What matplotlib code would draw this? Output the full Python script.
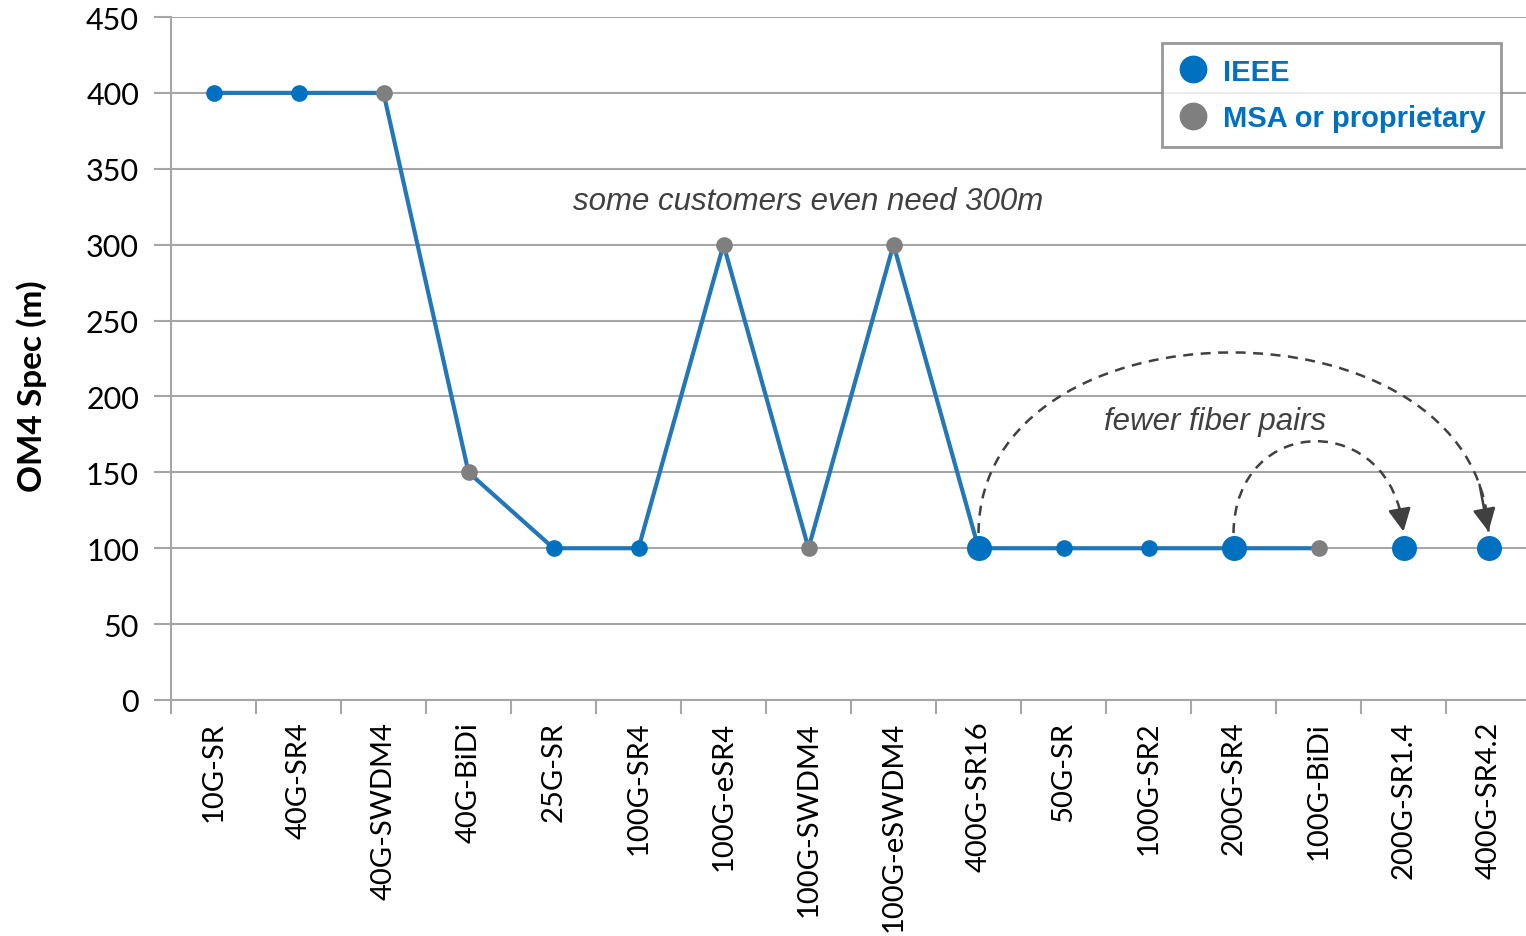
import matplotlib
matplotlib.use("Agg")
import matplotlib.pyplot as plt
from matplotlib.path import Path
from matplotlib.patches import FancyArrowPatch, PathPatch
from matplotlib.lines import Line2D

categories = ["10G-SR", "40G-SR4", "40G-SWDM4", "40G-BiDi", "25G-SR", "100G-SR4",
              "100G-eSR4", "100G-SWDM4", "100G-eSWDM4", "400G-SR16", "50G-SR",
              "100G-SR2", "200G-SR4", "100G-BiDi", "200G-SR1.4", "400G-SR4.2"]
reach = [400, 400, 400, 150, 100, 100, 300, 100, 300, 100, 100, 100, 100, 100, 100, 100]
kind = ["IEEE", "IEEE", "MSA", "MSA", "IEEE", "IEEE", "MSA", "MSA", "MSA", "IEEE",
        "IEEE", "IEEE", "IEEE", "MSA", "IEEE", "IEEE"]
highlight = [False]*9 + [True, False, False, True, False, True, True]
n_connected = 14  # first 14 points are joined by the line

BLUE = "#0070C0"
GRAY = "#7F7F7F"
LINE = "#2277B8"
GRID = "#A6A6A6"
DARK = "#404040"

fig = plt.figure(figsize=(15.26, 9.37), dpi=100)
ax = fig.add_axes([171/1526, 1-701/937, (1531-171)/1526, (701-18)/937])

x = list(range(len(categories)))
ax.plot(x[:n_connected], reach[:n_connected], color=LINE, lw=3, zorder=3)
for xi, yi, k, h in zip(x, reach, kind, highlight):
    ax.plot(xi, yi, 'o', color=BLUE if k == "IEEE" else GRAY,
            ms=18 if h else 12, mec='none', zorder=4)

ax.set_xlim(-0.5, len(categories) - 0.5)
ax.set_ylim(0, 450)
ax.set_yticks(range(0, 451, 50))
ax.grid(axis='y', color=GRID, lw=1.5, zorder=0)
ax.set_axisbelow(True)
for s in ["top", "right"]:
    ax.spines[s].set_visible(False)
for s in ["left", "bottom"]:
    ax.spines[s].set_color(GRID)
    ax.spines[s].set_linewidth(1.5)

tickfont = dict(family="Lato", size=21)
ax.set_xticks(x)
ax.set_xticklabels(categories, rotation=90, fontdict=tickfont, color="#000000")
ax.set_xticks([i - 0.5 for i in range(len(categories) + 1)], minor=True)
ax.tick_params(axis='x', which='major', length=0, pad=15)
ax.tick_params(axis='x', which='minor', length=10, width=1.5, color=GRID)
ax.tick_params(axis='y', length=12, width=1.5, color=GRID, pad=11)
for lbl in ax.get_yticklabels():
    lbl.set_fontfamily("Lato")
    lbl.set_fontsize(22)

fig.text(32/1526, 1-386/937, "OM4 Spec (m)", rotation=90, ha='center', va='center',
         fontsize=24, fontweight='bold', family="Lato")

ax.text(7.0, 329, "some customers even need 300m", ha='center', va='center',
        fontsize=22.5, style='italic', color=DARK, family="Liberation Sans")
ax.text(11.78, 184, "fewer fiber pairs", ha='center', va='center',
        fontsize=22.5, style='italic', color=DARK, family="Liberation Sans")

def bez(p, t):
    (x0, y0), (x1, y1), (x2, y2), (x3, y3) = p
    u = 1 - t
    return (u**3*x0 + 3*u*u*t*x1 + 3*u*t*t*x2 + t**3*x3,
            u**3*y0 + 3*u*u*t*y1 + 3*u*t*t*y2 + t**3*y3)

def arc(x0, x1, y0, y1, H):
    verts = [(x0, y0), (x0 + 0.02, y0 + H), (x1 - 0.12, y1 + H), (x1, y1)]
    codes = [Path.MOVETO, Path.CURVE4, Path.CURVE4, Path.CURVE4]
    ax.add_patch(PathPatch(Path(verts, codes), fill=False, edgecolor=DARK, lw=1.8,
                           linestyle=(0, (4, 3)), zorder=5))
    tail = bez(verts, 0.93)
    ax.add_patch(FancyArrowPatch(tail, verts[-1],
                                 arrowstyle='-|>,head_length=14,head_width=7',
                                 color=DARK, lw=1.8, zorder=5,
                                 shrinkA=0, shrinkB=0, mutation_scale=1))

arc(9, 15, 110, 111, 158)
arc(12, 14, 110, 111, 80)

handles = [Line2D([], [], marker='o', ls='none', color=BLUE, ms=20, mec='none'),
           Line2D([], [], marker='o', ls='none', color=GRAY, ms=20, mec='none')]
leg = ax.legend(handles, ["IEEE", "MSA or proprietary"], loc='upper left',
                bbox_to_anchor=((1162-171)/1360, 1-(44-18)/683),
                prop=dict(family="Liberation Sans", weight='bold', size=21),
                frameon=True, fancybox=False, edgecolor=GRAY, handletextpad=0.5,
                borderpad=0.5, labelspacing=0.64, handlelength=1.1, borderaxespad=0)
leg.get_frame().set_linewidth(2)
for t in leg.get_texts():
    t.set_color(BLUE)

fig.savefig("out.png", dpi=100)
